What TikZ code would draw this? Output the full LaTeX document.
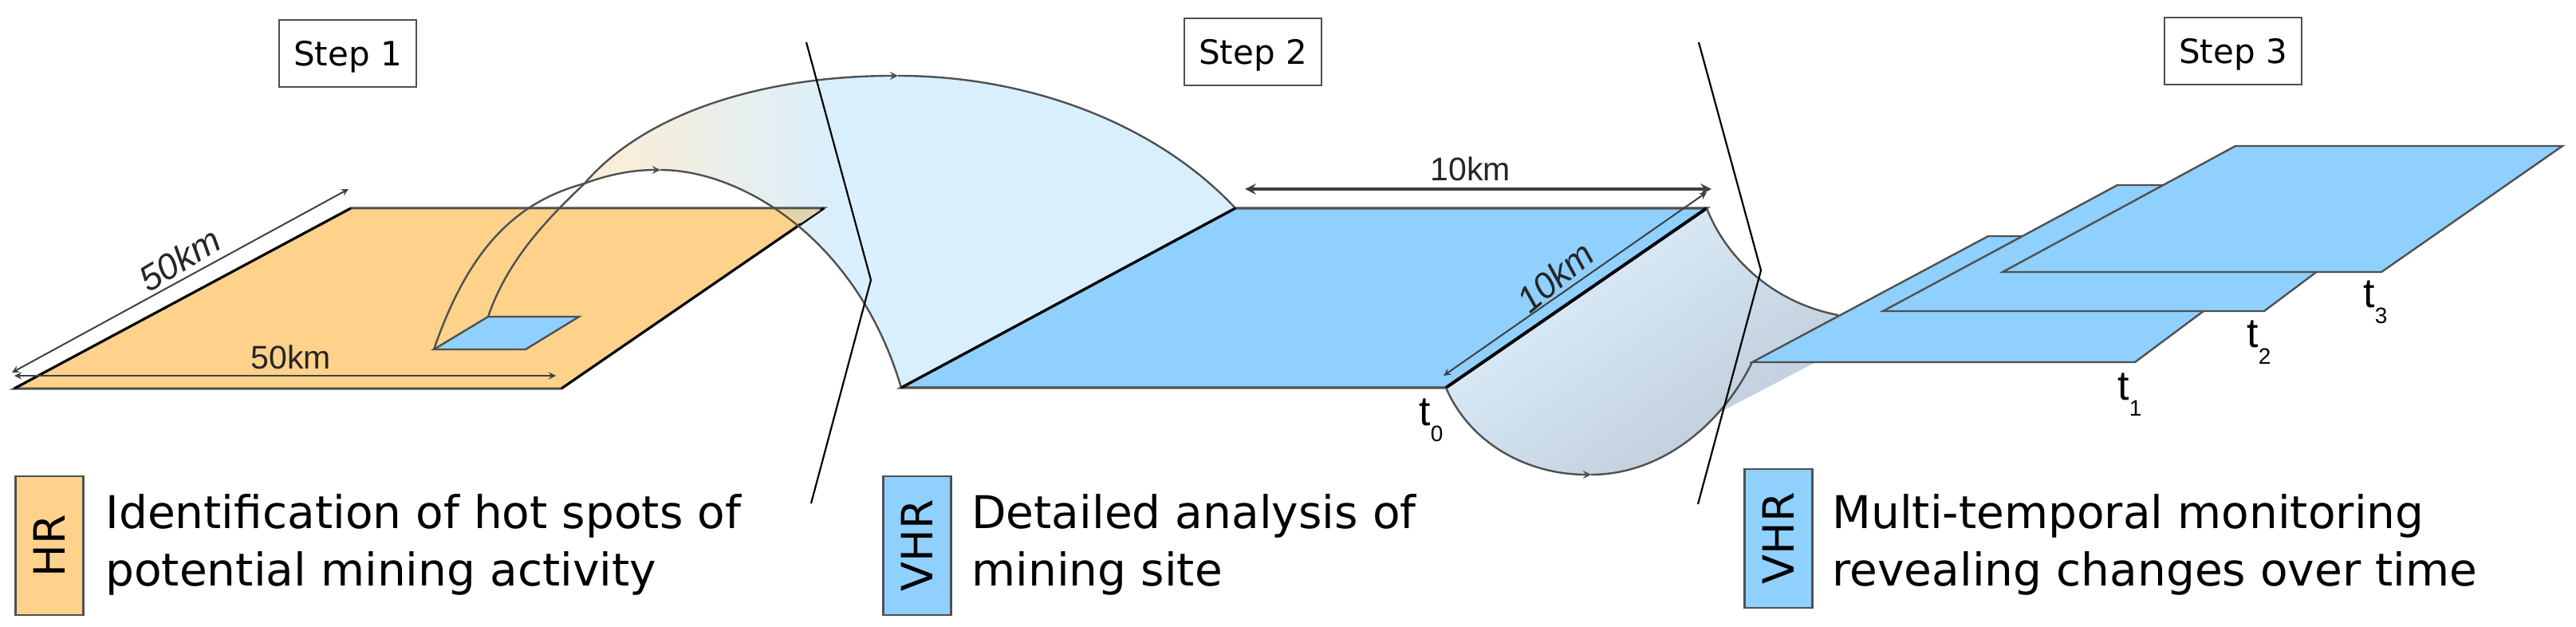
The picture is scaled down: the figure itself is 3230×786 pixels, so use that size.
\documentclass[tikz,border=0pt]{standalone}
\usepackage{fontspec}
\setmainfont{DejaVu Sans}
\newfontfamily\labelfont{Liberation Sans}
\definecolor{hrorange}{RGB}{255,210,140}
\definecolor{vhrblue}{RGB}{143,208,255}
\definecolor{edgegray}{RGB}{80,80,80}
\definecolor{bandcream}{RGB}{250,238,215}
\definecolor{bandblue}{RGB}{217,239,253}
\definecolor{foldlight}{RGB}{226,243,255}
\definecolor{foldgray}{RGB}{195,210,222}
\definecolor{foldpale}{RGB}{220,227,234}
\definecolor{tiptan}{RGB}{222,212,178}
\pgfdeclarehorizontalshading{bandshade}{100bp}{color(0bp)=(bandcream); color(27bp)=(bandcream); color(45bp)=(bandblue); color(100bp)=(bandblue)}
\pgfdeclareverticalshading{foldshade}{100bp}{color(0bp)=(foldpale); color(12bp)=(foldpale); color(25bp)=(foldgray); color(34bp)=(foldgray); color(77bp)=(foldlight); color(100bp)=(foldlight)}
\newcommand{\timestamp}[1]{t\raisebox{-10pt}{\fontsize{14}{14}\selectfont #1}}

\begin{document}
\begin{tikzpicture}[x=0.5pt, y=-0.5pt, >=stealth]%
        \tikzstyle{stepbox}=[draw=edgegray, fill=white, line width=1.3pt, minimum width=86pt, minimum height=42pt, text depth=0pt, font=\fontsize{21}{25}\selectfont];%
        \tikzstyle{hrplane}=[draw=edgegray, fill=hrorange, line width=1.5pt];%
        \tikzstyle{vhrplane}=[draw=edgegray, fill=vhrblue, line width=1.2pt];%
        \tikzstyle{arcline}=[draw=edgegray, line width=1.2pt];%
        \tikzstyle{dimline}=[<->, draw=black!75, line width=1pt];%
        \tikzstyle{dimlabel}=[inner sep=0pt, text=black!85, font=\labelfont\fontsize{20.5}{24}\selectfont];%
        \tikzstyle{slantlabel}=[inner sep=0pt, text=black!85, font=\labelfont\itshape\fontsize{22.5}{24}\selectfont];%
        \tikzstyle{timelabel}=[inner sep=0pt, anchor=base west, font=\labelfont\fontsize{26}{30}\selectfont];%
        \tikzstyle{sensorbox}=[draw=edgegray, line width=1.3pt, rotate=90, inner sep=0pt, minimum width=87pt, minimum height=42.5pt, font=\fontsize{27}{30}\selectfont];%
        \tikzstyle{stepnote}=[anchor=north west, align=left, inner sep=0pt, font=\fontsize{28.3}{36}\selectfont];%
        \tikzstyle{divider}=[draw=black, line width=1.1pt];%
        \useasboundingbox (0, 0) rectangle (3230, 786);

        % corners of the planes
        \coordinate (hrBL) at (18, 487);
        \coordinate (hrBR) at (704, 487);
        \coordinate (hrTR) at (1033, 261);
        \coordinate (hrTL) at (440, 261);

        \coordinate (siteBL) at (544, 438);
        \coordinate (siteBR) at (659, 438);
        \coordinate (siteTR) at (726, 397);
        \coordinate (siteTL) at (612, 397);

        \coordinate (zeroBL) at (1130, 486);
        \coordinate (zeroBR) at (1813, 486);
        \coordinate (zeroTR) at (2140, 261);
        \coordinate (zeroTL) at (1549, 261);

        \coordinate (oneBL) at (2197, 454);
        \coordinate (oneBR) at (2677, 454);
        \coordinate (oneTR) at (2889, 296);
        \coordinate (oneTL) at (2493, 296);

        \coordinate (twoBL) at (2361, 390);
        \coordinate (twoBR) at (2839, 390);
        \coordinate (twoTR) at (3050, 232);
        \coordinate (twoTL) at (2655, 232);

        \coordinate (threeBL) at (2511, 341);
        \coordinate (threeBR) at (2986, 341);
        \coordinate (threeTR) at (3213, 183);
        \coordinate (threeTL) at (2803, 183);

        % points on the arcs
        \coordinate (cross) at (733, 230);
        \coordinate (outerTop) at (1126, 95);
        \coordinate (innerTop) at (828, 213);
        \coordinate (foldLow) at (1995, 595);
        \coordinate (foldUp) at (2305, 395);
        \coordinate (foldIn) at (2277, 454);
        \coordinate (foldOut) at (2154, 518);

        % shaded bands
        \shade[shading=bandshade] (cross) .. controls (810, 140) and (960, 95) .. (outerTop) .. controls (1290, 95) and (1450, 155) .. (zeroTL) -- (zeroBL) .. controls (1075, 300) and (930, 213) .. (innerTop) .. controls (795, 213) and (765, 218) .. (cross) -- cycle;
        \shade[shading=foldshade, shading angle=35] (zeroBR) -- (zeroTR) .. controls (2165, 325) and (2225, 380) .. (foldUp) -- (foldIn) -- (foldOut) .. controls (2113.65, 563.15) and (2058, 595) .. (foldLow) .. controls (1920, 595) and (1845, 560) .. (zeroBR) -- cycle;

        % step 1 plane
        \draw[hrplane] (hrBL) -- (hrBR) -- (hrTR) -- (hrTL) -- cycle;
        \draw[line width=1.5pt] (hrBL) -- (hrTL);
        \draw[line width=1.5pt] (hrBR) -- (hrTR);
        \fill[tiptan] (982, 263) -- (1029, 263) -- (1004, 280) -- cycle;
        \draw[vhrplane] (siteBL) -- (siteBR) -- (siteTR) -- (siteTL) -- cycle;

        % arcs of step 1
        \draw[arcline] (siteBL) .. controls (585, 320) and (640, 255) .. (cross);
        \draw[arcline, ->] (cross) .. controls (765, 218) and (795, 213) .. (innerTop);
        \draw[arcline] (innerTop) .. controls (930, 213) and (1075, 300) .. (zeroBL);
        \draw[arcline] (siteTL) .. controls (635, 330) and (680, 280) .. (cross);
        \draw[arcline, ->] (cross) .. controls (810, 140) and (960, 95) .. (outerTop);
        \draw[arcline] (outerTop) .. controls (1290, 95) and (1450, 155) .. (zeroTL);

        % step 2 plane
        \draw[vhrplane, line width=1.6pt] (zeroBL) -- (zeroBR) -- (zeroTR) -- (zeroTL) -- cycle;
        \draw[line width=1.6pt] (zeroBL) -- (zeroTL);
        \draw[line width=2pt] (zeroBR) -- (zeroTR);

        % arcs of step 2
        \draw[arcline] (zeroTR) .. controls (2165, 325) and (2225, 380) .. (foldUp);
        \draw[arcline, ->] (zeroBR) .. controls (1845, 560) and (1920, 595) .. (foldLow);
        \draw[arcline] (foldLow) .. controls (2085, 595) and (2160, 530) .. (oneBL);

        % step 3 planes
        \draw[vhrplane] (oneBL) -- (oneBR) -- (oneTR) -- (oneTL) -- cycle;
        \draw[vhrplane] (twoBL) -- (twoBR) -- (twoTR) -- (twoTL) -- cycle;
        \draw[vhrplane] (threeBL) -- (threeBR) -- (threeTR) -- (threeTL) -- cycle;

        % dimensions
        \coordinate (dimA) at (15, 467);
        \coordinate (dimB) at (437, 237);
        \coordinate (dimC) at (18, 471);
        \coordinate (dimD) at (697, 471);
        \coordinate (dimE) at (1561, 237);
        \coordinate (dimF) at (2146, 237);
        \coordinate (dimG) at (1810, 471);
        \coordinate (dimH) at (2140, 241);
        \draw[dimline] (dimA) -- (dimB);
        \draw[dimline] (dimC) -- (dimD);
        \draw[dimline, line width=2pt] (dimE) -- (dimF);
        \draw[dimline] (dimG) -- (dimH);
        \node[slantlabel, rotate=31] (sideHr) at (225, 325) {50km};
        \node[dimlabel] (baseHr) at (365, 448) {50km};
        \node[dimlabel] (topZero) at (1844, 212) {10km};
        \node[slantlabel, rotate=40] (sideZero) at (1950, 347) {10km};

        % time stamps
        \node[timelabel] (t0) at (1779, 533) {\timestamp{0}};
        \node[timelabel] (t1) at (2655, 501) {\timestamp{1}};
        \node[timelabel] (t2) at (2817, 436) {\timestamp{2}};
        \node[timelabel] (t3) at (2963, 386) {\timestamp{3}};

        % dividers
        \coordinate (divAtop) at (1011, 53);
        \coordinate (divAmid) at (1092, 351);
        \coordinate (divAlow) at (1017, 631);
        \coordinate (divBtop) at (2130, 53);
        \coordinate (divBmid) at (2208, 339);
        \coordinate (divBlow) at (2129, 632);
        \draw[divider] (divAtop) -- (divAmid) -- (divAlow);
        \draw[divider] (divBtop) -- (divBmid) -- (divBlow);

        % titles
        \node[stepbox] (step1) at (436, 67) {Step 1};
        \node[stepbox] (step2) at (1571, 65) {Step 2};
        \node[stepbox] (step3) at (2800, 64) {Step 3};

        % legend
        \node[sensorbox, fill=hrorange] (hrKey) at (62, 684) {HR};
        \node[sensorbox, fill=vhrblue] (vhrKeyA) at (1150, 684) {VHR};
        \node[sensorbox, fill=vhrblue] (vhrKeyB) at (2230, 675) {VHR};

        \node[stepnote] (noteA) at (132, 619) {Identification of hot spots of\\potential mining activity};
        \node[stepnote] (noteB) at (1218, 619) {Detailed analysis of\\mining site};
        \node[stepnote] (noteC) at (2297, 619) {Multi-temporal monitoring\\revealing changes over time};
    \end{tikzpicture}
\end{document}
